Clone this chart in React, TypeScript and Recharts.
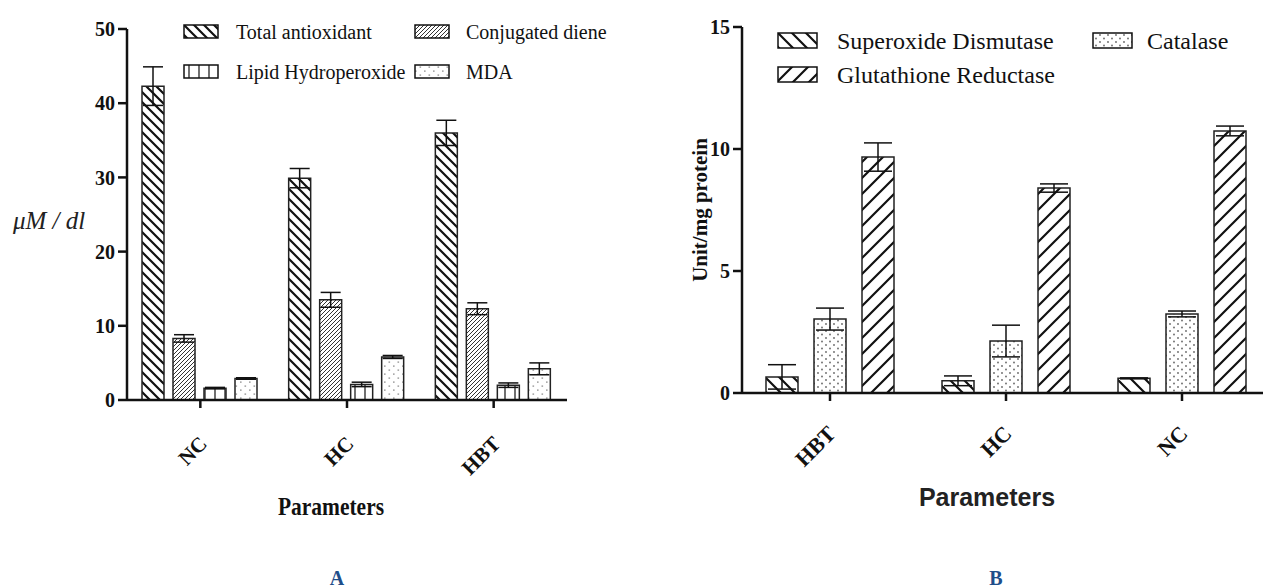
import React from 'react';
import { BarChart, Bar, XAxis, YAxis, Legend, ErrorBar, Label } from 'recharts';

// ---------- Chart A data ----------
const categoriesA = ['NC', 'HC', 'HBT'];
const totalAntioxidant = [42.3, 29.9, 36.0];
const totalAntioxidantErr = [2.6, 1.3, 1.7];
const conjugatedDiene = [8.3, 13.5, 12.3];
const conjugatedDieneErr = [0.5, 1.0, 0.8];
const lipidHydroperoxide = [1.6, 2.1, 2.0];
const lipidHydroperoxideErr = [0.1, 0.3, 0.3];
const mda = [2.9, 5.8, 4.2];
const mdaErr = [0.1, 0.2, 0.8];
const ticksA = [0, 10, 20, 30, 40, 50];
const seriesOrderA = ['ta', 'cd', 'lh', 'mda'];

// ---------- Chart B data ----------
const categoriesB = ['HBT', 'HC', 'NC'];
const superoxideDismutase = [0.66, 0.5, 0.6];
const superoxideDismutaseErr = [0.5, 0.2, 0.02];
const catalase = [3.03, 2.13, 3.24];
const catalaseErr = [0.45, 0.65, 0.12];
const glutathioneReductase = [9.67, 8.4, 10.74];
const glutathioneReductaseErr = [0.58, 0.17, 0.2];
const ticksB = [0, 5, 10, 15];
const seriesOrderB = ['sod', 'cat', 'gr'];

const dataA = categoriesA.map((c, i) => ({
  name: c,
  ta: totalAntioxidant[i],
  taErr: totalAntioxidantErr[i],
  cd: conjugatedDiene[i],
  cdErr: conjugatedDieneErr[i],
  lh: lipidHydroperoxide[i],
  lhErr: lipidHydroperoxideErr[i],
  mda: mda[i],
  mdaErr: mdaErr[i],
}));

const dataB = categoriesB.map((c, i) => ({
  name: c,
  sod: superoxideDismutase[i],
  sodErr: superoxideDismutaseErr[i],
  cat: catalase[i],
  catErr: catalaseErr[i],
  gr: glutathioneReductase[i],
  grErr: glutathioneReductaseErr[i],
}));

const SERIF = '"Liberation Serif", "Times New Roman", serif';
const SANS = '"Liberation Sans", Arial, sans-serif';
const INK = '#111';

const back = (s: number) => `M-1,-1 L${s + 1},${s + 1} M-1,${s - 1} L1,${s + 1} M${s - 1},-1 L${s + 1},1`;
const fwd = (s: number) => `M-1,${s + 1} L${s + 1},-1 M-1,1 L1,-1 M${s - 1},${s + 1} L${s + 1},${s - 1}`;

const Patterns = () => (
  <svg width="0" height="0" style={{ position: 'absolute' }}>
    <defs>
      <pattern id="pTA" patternUnits="userSpaceOnUse" width="10" height="10">
        <rect width="10" height="10" fill="#fff" />
        <path d={back(10)} stroke={INK} strokeWidth="2.2" />
      </pattern>
      <pattern id="pCD" patternUnits="userSpaceOnUse" width="4" height="4">
        <rect width="4" height="4" fill="#fff" />
        <path d={fwd(4)} stroke="#333" strokeWidth="1" />
      </pattern>
      <pattern id="pLH" patternUnits="userSpaceOnUse" width="10" height="10">
        <rect width="10" height="10" fill="#fff" />
        <path d="M5,0 L5,10" stroke="#222" strokeWidth="1.3" />
      </pattern>
      <pattern id="pMDA" patternUnits="userSpaceOnUse" width="9" height="8">
        <rect width="9" height="8" fill="#fff" />
        <rect x="1.5" y="1.5" width="1.6" height="1.2" fill="#888" />
        <rect x="6" y="5.5" width="1.6" height="1.2" fill="#888" />
      </pattern>
      <pattern id="pSOD" patternUnits="userSpaceOnUse" width="14" height="14">
        <rect width="14" height="14" fill="#fff" />
        <path d={back(14)} stroke={INK} strokeWidth="2.2" />
      </pattern>
      <pattern id="pCAT" patternUnits="userSpaceOnUse" width="8" height="7">
        <rect width="8" height="7" fill="#fff" />
        <circle cx="2" cy="2" r="0.9" fill="#666" />
        <circle cx="6" cy="5.5" r="0.9" fill="#666" />
      </pattern>
      <pattern id="pGR" patternUnits="userSpaceOnUse" width="16" height="16">
        <rect width="16" height="16" fill="#fff" />
        <path d={fwd(16)} stroke={INK} strokeWidth="2.2" />
      </pattern>
    </defs>
  </svg>
);

const makeTick = (fontSize: number, dx: number, dy: number) => (props: any) => {
  const { x, y, payload } = props;
  return (
    <g transform={`translate(${x + dx},${y + dy}) rotate(-45)`}>
      <text x={0} y={0} textAnchor="end" fontFamily={SERIF} fontWeight="bold" fontSize={fontSize} fill={INK}>
        {payload.value}
      </text>
    </g>
  );
};

const makeLegend = (
  order: string[],
  colX: number[],
  rowY: number[],
  sw: number,
  sh: number,
  textDx: number[],
  fontSize: number,
  w: number,
  h: number
) => (props: any) => {
  const raw = props.payload || [];
  const payload = [...raw].sort(
    (a: any, b: any) => order.indexOf(String(a.dataKey)) - order.indexOf(String(b.dataKey))
  );
  return (
    <svg width={w} height={h} style={{ overflow: 'visible' }}>
      {payload.map((entry: any, i: number) => {
        const col = i % 2;
        const row = Math.floor(i / 2);
        const x = colX[col];
        const y = rowY[row];
        const fill = (entry.payload && entry.payload.fill) || entry.color;
        return (
          <g key={i}>
            <rect x={x} y={y} width={sw} height={sh} fill={fill} stroke={INK} strokeWidth={1.5} />
            <text
              x={x + textDx[col]}
              y={y + sh / 2}
              dominantBaseline="central"
              fontFamily={SERIF}
              fontSize={fontSize}
              fill={INK}
            >
              {entry.value}
            </text>
          </g>
        );
      })}
    </svg>
  );
};

const axisStyle = { stroke: INK, strokeWidth: 2.5 };
const tickFont = { fontFamily: SERIF, fontWeight: 'bold', fontSize: 20, fill: INK };

export default function App() {
  return (
    <div style={{ position: 'absolute', left: 0, top: 0, width: 1263, height: 588, overflow: 'hidden', background: '#fff' }}>
      <Patterns />
      {/* Chart A */}
      <div style={{ position: 'absolute', left: 0, top: 0 }}>
        <BarChart
          width={640}
          height={540}
          data={dataA}
          margin={{ top: 29, right: 73, bottom: 80, left: 67 }}
          barCategoryGap={15}
          barGap={9}
        >
          <XAxis
            dataKey="name"
            interval={0}
            height={60}
            tickSize={8}
            tickMargin={2}
            axisLine={axisStyle}
            tickLine={axisStyle}
            tick={makeTick(21, 8, 35)}
          >
            <Label
              content={(p: any) => {
                const vb = p.viewBox || { x: 0, y: 0, width: 0 };
                return (
                  <text
                    x={vb.x + vb.width / 2 - 16}
                    y={vb.y + 106}
                    textAnchor="middle"
                    dominantBaseline="central"
                    fontFamily={SERIF}
                    fontWeight="bold"
                    fontSize={26}
                    textLength={106}
                    lengthAdjust="spacingAndGlyphs"
                    fill={INK}
                  >
                    Parameters
                  </text>
                );
              }}
            />
          </XAxis>
          <YAxis
            domain={[0, 50]}
            ticks={ticksA}
            interval={0}
            width={60}
            tickSize={9}
            tickMargin={3}
            axisLine={axisStyle}
            tickLine={axisStyle}
            tick={tickFont}
          >
            <Label
              content={(p: any) => {
                const vb = p.viewBox || { x: 0, y: 0, height: 0 };
                return (
                  <text
                    x={vb.x - 54}
                    y={vb.y + vb.height / 2 + 6}
                    dominantBaseline="central"
                    fontFamily={SERIF}
                    fontStyle="italic"
                    fontSize={25}
                    fill="#222"
                  >
                    μM / dl
                  </text>
                );
              }}
            />
          </YAxis>
          <Legend
            layout="horizontal"
            verticalAlign="middle"
            align="center"
            wrapperStyle={{ left: 184, top: 25, width: 440, height: 60 }}
            content={makeLegend(seriesOrderA, [0, 231], [0, 40], 34, 13, [52, 51], 20, 440, 60)}
          />
          <Bar dataKey="ta" name="Total antioxidant" fill="url(#pTA)" stroke="#222" strokeWidth={1.5} isAnimationActive={false}>
            <ErrorBar dataKey="taErr" width={10} stroke={INK} strokeWidth={1.5} />
          </Bar>
          <Bar dataKey="cd" name="Conjugated diene" fill="url(#pCD)" stroke="#222" strokeWidth={1.5} isAnimationActive={false}>
            <ErrorBar dataKey="cdErr" width={10} stroke={INK} strokeWidth={1.5} />
          </Bar>
          <Bar dataKey="lh" name="Lipid Hydroperoxide" fill="url(#pLH)" stroke="#222" strokeWidth={1.5} isAnimationActive={false}>
            <ErrorBar dataKey="lhErr" width={10} stroke={INK} strokeWidth={1.5} />
          </Bar>
          <Bar dataKey="mda" name="MDA" fill="url(#pMDA)" stroke="#222" strokeWidth={1.5} isAnimationActive={false}>
            <ErrorBar dataKey="mdaErr" width={10} stroke={INK} strokeWidth={1.5} />
          </Bar>
        </BarChart>
      </div>

      {/* Chart B */}
      <div style={{ position: 'absolute', left: 640, top: 0 }}>
        <BarChart
          width={640}
          height={540}
          data={dataB}
          margin={{ top: 27, right: 10, bottom: 87, left: 42 }}
          barCategoryGap={24}
          barGap={16}
        >
          <XAxis
            dataKey="name"
            interval={0}
            height={60}
            tickSize={8}
            tickMargin={2}
            axisLine={axisStyle}
            tickLine={axisStyle}
            tick={makeTick(22, 7, 32)}
          >
            <Label
              content={(p: any) => {
                const vb = p.viewBox || { x: 0, y: 0, width: 0 };
                return (
                  <text
                    x={vb.x + vb.width / 2 - 19}
                    y={vb.y + 104}
                    textAnchor="middle"
                    dominantBaseline="central"
                    fontFamily={SANS}
                    fontWeight="bold"
                    fontSize={25}
                    fill="#222"
                  >
                    Parameters
                  </text>
                );
              }}
            />
          </XAxis>
          <YAxis
            domain={[0, 15]}
            ticks={ticksB}
            interval={0}
            width={60}
            tickSize={9}
            tickMargin={3}
            axisLine={axisStyle}
            tickLine={axisStyle}
            tick={tickFont}
          >
            <Label
              content={(p: any) => {
                const vb = p.viewBox || { x: 0, y: 0, height: 0 };
                const cx = vb.x + 18;
                const cy = vb.y + vb.height / 2;
                return (
                  <text
                    x={cx}
                    y={cy}
                    transform={`rotate(-90, ${cx}, ${cy})`}
                    textAnchor="middle"
                    dominantBaseline="central"
                    fontFamily={SERIF}
                    fontWeight="bold"
                    fontSize={21}
                    fill={INK}
                  >
                    Unit/mg protein
                  </text>
                );
              }}
            />
          </YAxis>
          <Legend
            layout="horizontal"
            verticalAlign="middle"
            align="center"
            wrapperStyle={{ left: 138, top: 33, width: 480, height: 60 }}
            content={makeLegend(seriesOrderB, [0, 315], [0, 34], 39, 15, [59, 54], 24, 480, 60)}
          />
          <Bar dataKey="sod" name="Superoxide Dismutase" fill="url(#pSOD)" stroke="#222" strokeWidth={1.5} isAnimationActive={false}>
            <ErrorBar dataKey="sodErr" width={14} stroke={INK} strokeWidth={1.5} />
          </Bar>
          <Bar dataKey="cat" name="Catalase" fill="url(#pCAT)" stroke="#222" strokeWidth={1.5} isAnimationActive={false}>
            <ErrorBar dataKey="catErr" width={14} stroke={INK} strokeWidth={1.5} />
          </Bar>
          <Bar dataKey="gr" name="Glutathione Reductase" fill="url(#pGR)" stroke="#222" strokeWidth={1.5} isAnimationActive={false}>
            <ErrorBar dataKey="grErr" width={14} stroke={INK} strokeWidth={1.5} />
          </Bar>
        </BarChart>
      </div>

      <div style={{ position: 'absolute', left: 337, top: 578, transform: 'translate(-50%, -50%)', fontFamily: SERIF, fontWeight: 'bold', fontSize: 20, color: '#1f4e8a' }}>
        A
      </div>
      <div style={{ position: 'absolute', left: 996, top: 578, transform: 'translate(-50%, -50%)', fontFamily: SERIF, fontWeight: 'bold', fontSize: 20, color: '#1f4e8a' }}>
        B
      </div>
    </div>
  );
}
